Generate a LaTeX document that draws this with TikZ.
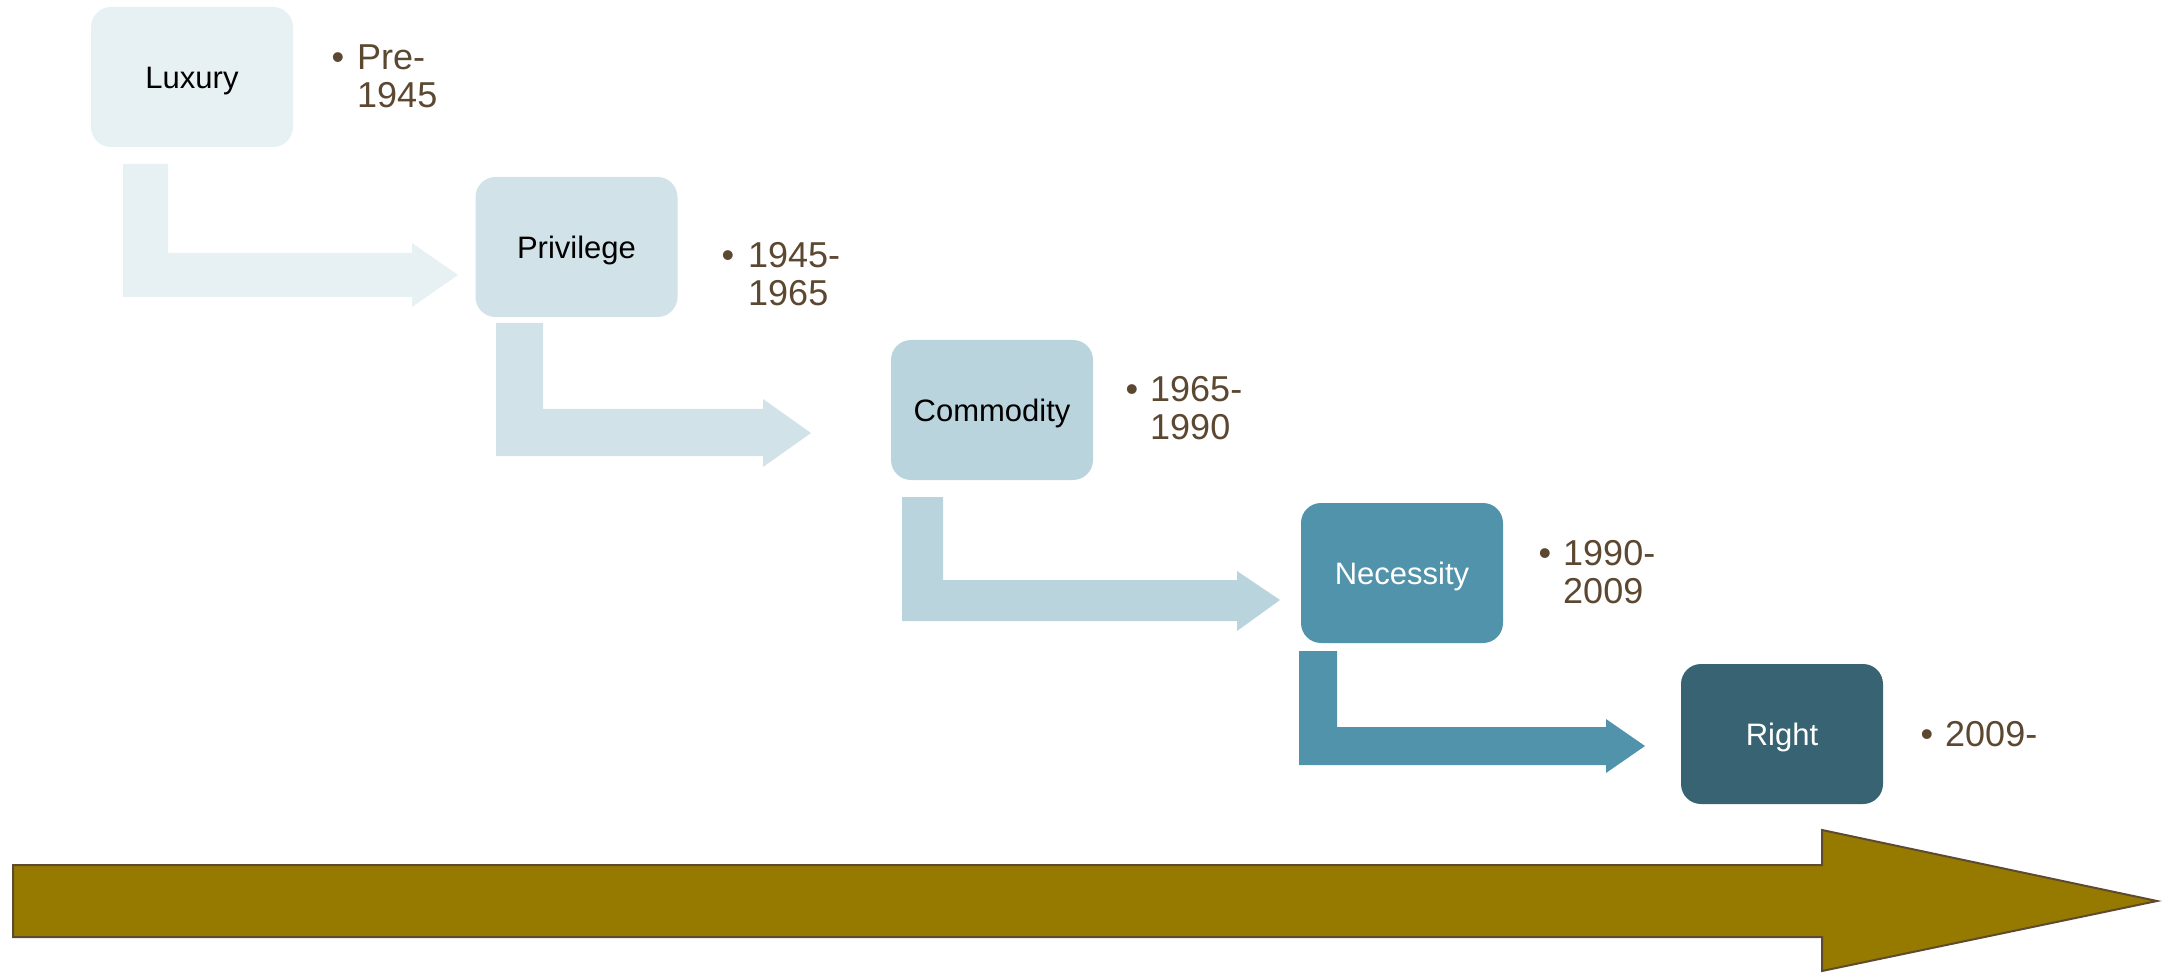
\documentclass[tikz,border=0pt]{standalone}
\usepackage{fontspec}
\setmainfont{Liberation Sans}
\definecolor{cLux}{HTML}{E7F0F3}
\definecolor{cPriv}{HTML}{D1E2E8}
\definecolor{cComm}{HTML}{BAD4DD}
\definecolor{cNec}{HTML}{5293AC}
\definecolor{cRight}{HTML}{386373}
\definecolor{cDate}{HTML}{5C4731}
\definecolor{cGold}{HTML}{967A00}
\definecolor{cGoldEdge}{HTML}{5E4A2E}
\newcommand{\bentarrow}[9]{%
  % #1 color, #2 xl, #3 xr, #4 ytop, #5 shaft top, #6 shaft bottom, #7 head base x, #8 tip x, #9 tip y
  \fill[#1] (#2,#4) -- (#3,#4) -- (#3,#5) -- (#7,#5) -- (#7,\headtop) -- (#8,#9)
    -- (#7,\headbot) -- (#7,#6) -- (#2,#6) -- cycle;}
\begin{document}
\begin{tikzpicture}[x=1pt,y=-1pt,
  stagebox/.style={rounded corners=20pt, minimum width=202pt, minimum height=140pt,
    inner sep=0pt, text height=22.5pt, text depth=0pt, font=\fontsize{31}{36}\selectfont},
  datetext/.style={anchor=base west, inner sep=0pt, text=cDate,
    font=\fontsize{36}{38}\selectfont}]
\useasboundingbox (0,0) rectangle (2174,973);

% bent arrows
\def\headtop{243}\def\headbot{307}
\bentarrow{cLux}{123}{168}{164}{253}{297}{412}{458}{275}
\def\headtop{399}\def\headbot{467}
\bentarrow{cPriv}{496}{543}{323}{409}{456}{763}{811}{433}
\def\headtop{571}\def\headbot{631}
\bentarrow{cComm}{902}{943}{497}{580}{621}{1237}{1280}{600}
\def\headtop{719}\def\headbot{773}
\bentarrow{cNec}{1299}{1337}{651}{727}{765}{1606}{1645}{746}

% stage boxes
\node[stagebox, fill=cLux, text=black] (lux) at (192,77) {Luxury};
\node[stagebox, fill=cPriv, text=black] (priv) at (576.5,247) {Privilege};
\node[stagebox, fill=cComm, text=black] (comm) at (992,410) {Commodity};
\node[stagebox, fill=cNec, text=white] (nec) at (1402,573) {Necessity};
\node[stagebox, fill=cRight, text=white] (right) at (1782,734) {Right};

% dates
\node[datetext] (d1) at (357,70) {\begin{tabular}[t]{@{}l@{}}\llap{•\hspace{13pt}}Pre-\\1945\end{tabular}};
\node[datetext] (d2) at (748,268) {\begin{tabular}[t]{@{}l@{}}\llap{•\hspace{14pt}}1945-\\1965\end{tabular}};
\node[datetext] (d3) at (1150,402) {\begin{tabular}[t]{@{}l@{}}\llap{•\hspace{12pt}}1965-\\1990\end{tabular}};
\node[datetext] (d4) at (1563,565) {\begin{tabular}[t]{@{}l@{}}\llap{•\hspace{12pt}}1990-\\2009\end{tabular}};
\node[datetext] (d5) at (1945,746) {\llap{•\hspace{12pt}}2009-};

% timeline arrow
\filldraw[fill=cGold, draw=cGoldEdge, line width=2pt, line join=miter]
  (13,865) -- (1822,865) -- (1822,830) -- (2157,901) -- (1822,971) -- (1822,937) -- (13,937) -- cycle;
\end{tikzpicture}
\end{document}
